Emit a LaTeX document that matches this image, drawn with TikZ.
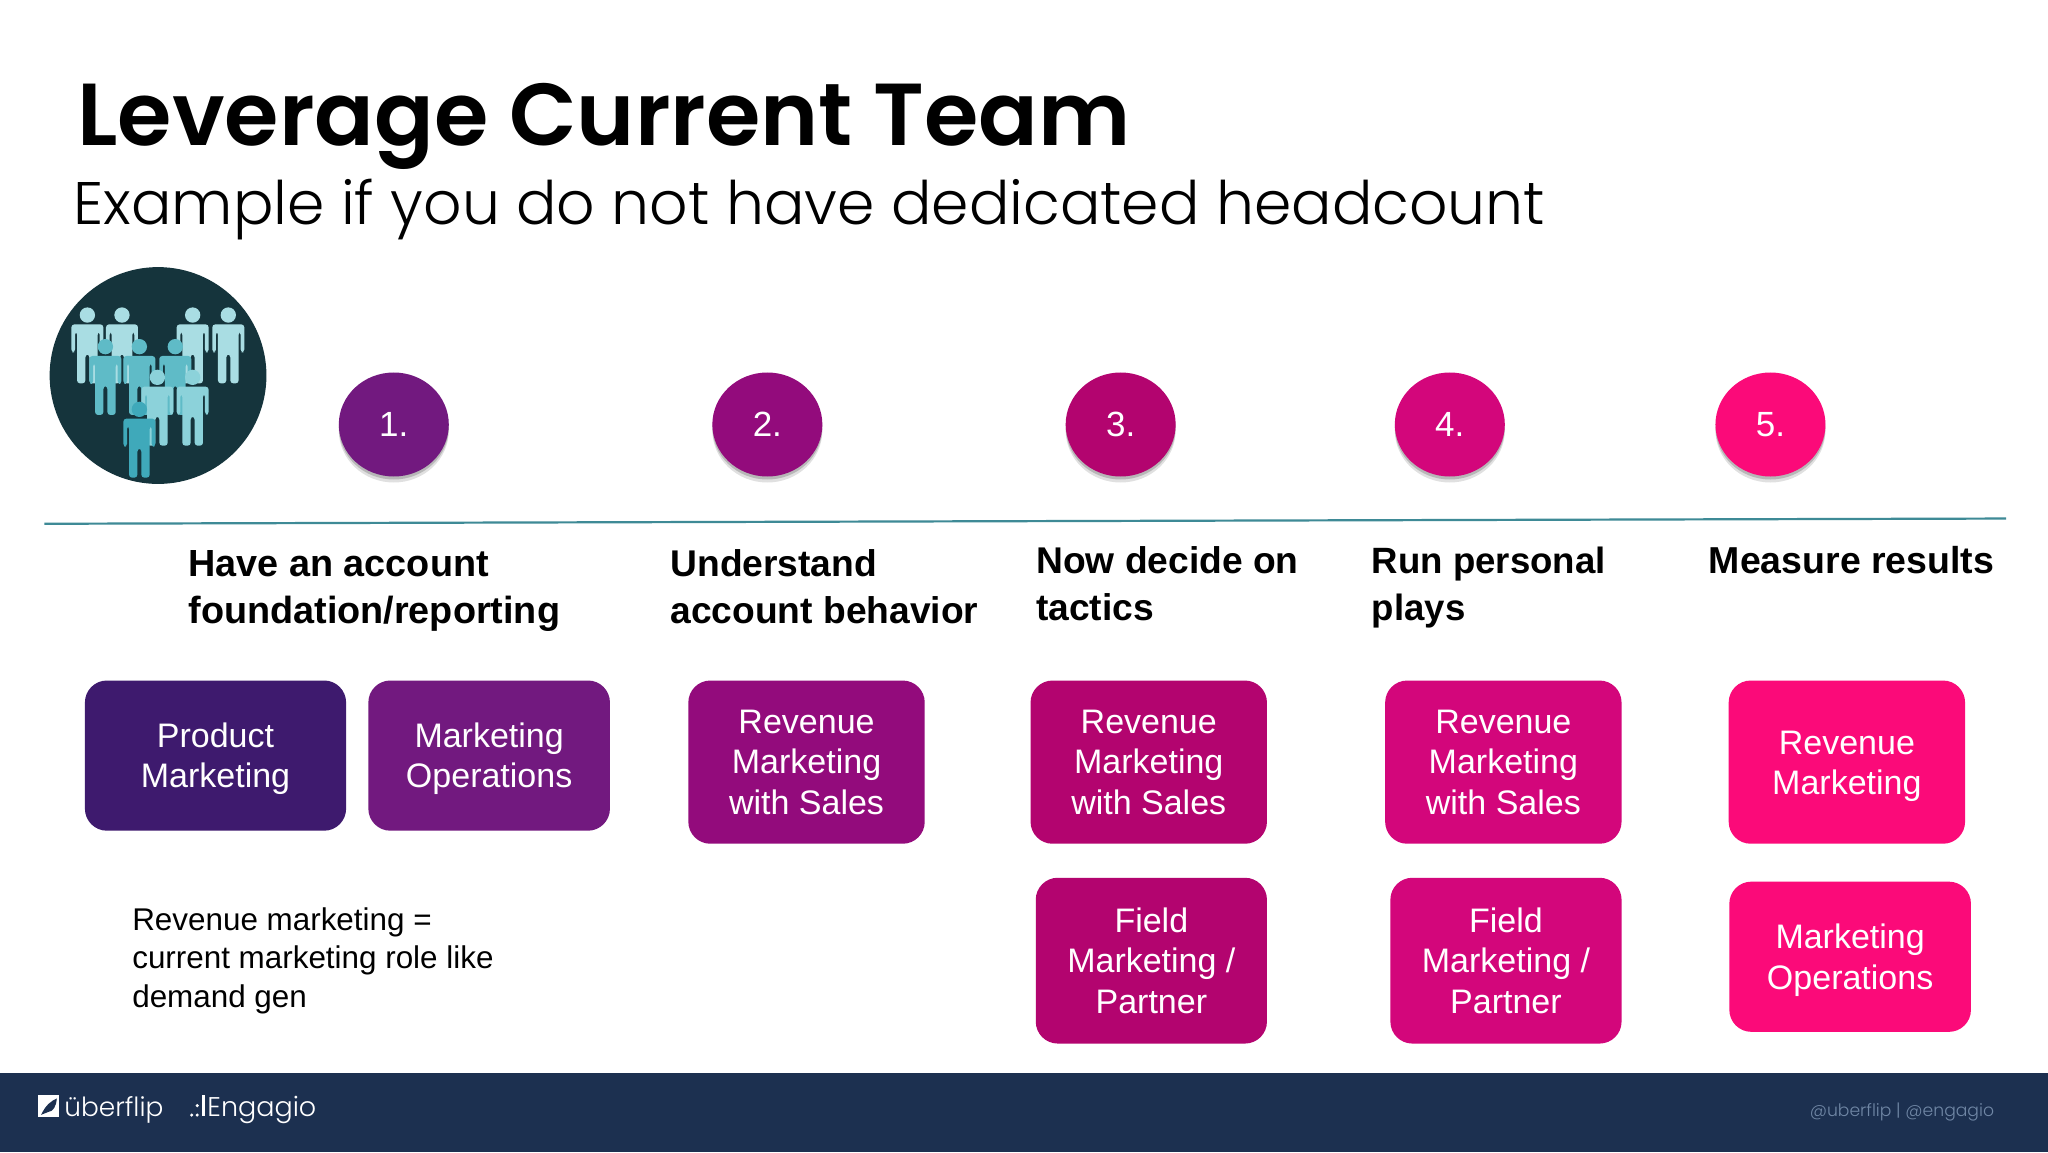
\documentclass[tikz,border=0pt]{standalone}
\usepackage{fontspec}
\usetikzlibrary{shapes.geometric,shadows}
\setmainfont{Liberation Sans}
\newfontfamily\titlefont[UprightFont=* SemiBold]{Poppins}
\newfontfamily\lightfont[UprightFont=* Light]{Poppins}
\definecolor{c1}{HTML}{72197F}\definecolor{c2}{HTML}{930B7C}\definecolor{c3}{HTML}{B3046F}
\definecolor{c4}{HTML}{D3067B}\definecolor{c5}{HTML}{FB0A79}\definecolor{c0}{HTML}{3E1A6E}
\definecolor{bar}{HTML}{1C3050}\definecolor{disc}{HTML}{15343C}
\definecolor{pa}{HTML}{A9DDE3}\definecolor{pb}{HTML}{5FBBC7}\definecolor{pc}{HTML}{8CD2DA}\definecolor{pd}{HTML}{3FA9BA}
\newcommand{\personfig}[3]{%
 \begin{scope}[shift={(#1,#2)},scale=0.2552]
 \fill[#3] (0,0) circle[radius=23];
 \fill[#3,rounded corners=1.5pt] (-48,28) -- (48,28) -- (48,112) -- (37,112) -- (37,50) -- (31,50) -- (31,205) -- (6,205) -- (6,118) -- (-6,118) -- (-6,205) -- (-31,205) -- (-31,50) -- (-37,50) -- (-37,112) -- (-48,112) -- cycle;
 \end{scope}}
\newcommand{\topfix}{\rule{0pt}{15.6pt}}
\tikzset{
 x=0.65306pt,y=-0.65306pt,
 badge/.style={ellipse,minimum width=55pt,minimum height=52pt,inner sep=0pt,text=white,font=\fontsize{17.5}{20}\selectfont,
   drop shadow={shadow xshift=0pt,shadow yshift=-1.5pt,opacity=.18,fill=black},
   drop shadow={shadow xshift=0pt,shadow yshift=-3pt,opacity=.12,fill=black}},
 rolebox/.style={rounded corners=11pt,inner sep=0pt,text=white,align=center,font=\fontsize{17}{20.2}\selectfont},
 heading/.style={anchor=west,align=left,inner sep=0pt,font=\bfseries\fontsize{#1}{23.5}\selectfont},
}
\begin{document}
\begin{tikzpicture}
\useasboundingbox (0,0) rectangle (1568,882);
\fill[white] (0,0) rectangle (1568,882);
\node[anchor=base west,inner sep=0pt,font=\titlefont\fontsize{44}{50}\selectfont] (title) at (59,111.5) {Leverage Current Team};
\node[anchor=base west,inner sep=0pt,font=\lightfont\fontsize{30}{36}\selectfont] (subtitle) at (56,172) {Example if you do not have dedicated headcount};
% icon
\fill[disc] (121,287.5) circle[radius=83];
\personfig{66.9}{241.2}{pa}\personfig{93.4}{241.2}{pa}\personfig{147.5}{241.2}{pa}\personfig{174.8}{241.2}{pa}
\personfig{80.7}{265.4}{pb}\personfig{106.7}{265.4}{pb}\personfig{134.2}{265.4}{pb}
\personfig{120.5}{288.9}{pc}\personfig{147.5}{288.9}{pc}
\personfig{106.7}{313.4}{pd}
% badges
\node[badge,fill=c1] (b1) at (301.5,325) {1.};
\node[badge,fill=c2] (b2) at (587.5,325) {2.};
\node[badge,fill=c3] (b3) at (858,325) {3.};
\node[badge,fill=c4] (b4) at (1110,325) {4.};
\node[badge,fill=c5] (b5) at (1355.5,325) {5.};
% rule
\coordinate (ruleL) at (34,401);\coordinate (ruleR) at (1536,397);
\draw[color={rgb,255:red,62;green,138;blue,150},line width=1.1pt] (ruleL) -- (ruleR);
% headings
\node[heading=18.9] (h1) at (144,452.5) {Have an account\\foundation/reporting};
\node[heading=18.6] (h2) at (513,449.5) {Understand\\account behavior};
\node[heading=18.6] (h3) at (793,447) {Now decide on\\tactics};
\node[heading=18.3] (h4) at (1050,450) {Run personal\\plays};
\node[heading=18.75] (h5) at (1308,429) {Measure results};
% boxes
\node[rolebox,fill=c0,minimum width=130.6pt,minimum height=75.1pt] (pm) at (165,578.5) {\topfix Product\\Marketing};
\node[rolebox,fill=c1,minimum width=120.8pt,minimum height=75.1pt] (mo) at (374.5,578.5) {\topfix Marketing\\Operations};
\node[rolebox,fill=c2,minimum width=118.2pt,minimum height=81.6pt] (r2) at (617.5,583.5) {Revenue\\Marketing\\with Sales};
\node[rolebox,fill=c3,minimum width=118.2pt,minimum height=81.6pt] (r3) at (879.5,583.5) {Revenue\\Marketing\\with Sales};
\node[rolebox,fill=c3,minimum width=115.6pt,minimum height=82.9pt] (f3) at (881.5,735.5) {Field\\Marketing /\\Partner};
\node[rolebox,fill=c4,minimum width=118.2pt,minimum height=81.6pt] (r4) at (1151,583.5) {Revenue\\Marketing\\with Sales};
\node[rolebox,fill=c4,minimum width=115.6pt,minimum height=82.9pt] (f4) at (1153,735.5) {Field\\Marketing /\\Partner};
\node[rolebox,fill=c5,minimum width=118.2pt,minimum height=81.6pt] (r5) at (1414,583.5) {\topfix Revenue\\Marketing};
\node[rolebox,fill=c5,minimum width=120.8pt,minimum height=75.1pt] (m5) at (1416.5,732.5) {\topfix Marketing\\Operations};
% note
\node[anchor=west,align=left,inner sep=0pt,font=\fontsize{15.7}{19.2}\selectfont] (note) at (101,735.5) {Revenue marketing =\\current marketing role like\\demand gen};
% footer
\fill[bar] (0,821.5) rectangle (1568,882);
\fill[white] (29,838.5) rectangle (45.5,855);
\fill[bar] (31.5,853.5) .. controls (35,846) and (39,843) .. (43.5,841) .. controls (43,847) and (41,851) .. (36.5,851.5) -- cycle;
\node[anchor=base west,inner sep=0pt,text=white,font=\lightfont\fontsize{13.2}{16}\selectfont] (ub) at (49,855) {überflip};
\fill[white] (146.8,853.7) circle[radius=1.3] (151,853.7) circle[radius=1.3] (151,846.5) circle[radius=1.3];
\fill[white] (155,838.5) rectangle (156.6,854.5);
\node[anchor=base west,inner sep=0pt,text=white,font=\lightfont\fontsize{13.5}{16}\selectfont] (en) at (158.5,855) {Engagio};
\node[anchor=east,inner sep=0pt,text={rgb,255:red,112;green,135;blue,165},font=\lightfont\fontsize{8.6}{11}\selectfont] (hdl) at (1527,851.5) {@uberflip | @engagio};
\end{tikzpicture}
\end{document}
